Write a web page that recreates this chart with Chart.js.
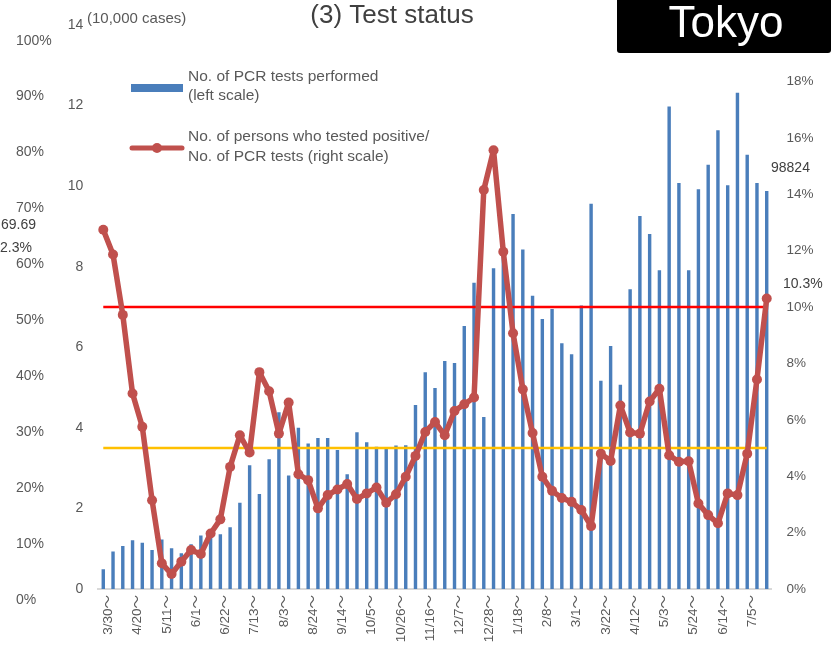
<!DOCTYPE html>
<html>
<head>
<meta charset="utf-8">
<title>(3) Test status - Tokyo</title>
<script src="https://cdn.jsdelivr.net/npm/chart.js@4.4.1/dist/chart.umd.min.js"></script>
<style>
  body { margin: 0; background: #fff; }
  #wrap { width: 833px; height: 656px; }
</style>
</head>
<body>
<div id="wrap"><canvas id="testChart" width="833" height="656"></canvas></div>
<script>
// week starting dates, 2020/3/30 - 2021/7/19
var weeks = [
    '3/30', '4/6', '4/13', '4/20', '4/27', '5/4', '5/11', '5/18', '5/25', '6/1',
    '6/8', '6/15', '6/22', '6/29', '7/6', '7/13', '7/20', '7/27', '8/3', '8/10',
    '8/17', '8/24', '8/31', '9/7', '9/14', '9/21', '9/28', '10/5', '10/12', '10/19',
    '10/26', '11/2', '11/9', '11/16', '11/23', '11/30', '12/7', '12/14', '12/21', '12/28',
    '1/4', '1/11', '1/18', '1/25', '2/1', '2/8', '2/15', '2/22', '3/1', '3/8',
    '3/15', '3/22', '3/29', '4/5', '4/12', '4/19', '4/26', '5/3', '5/10', '5/17',
    '5/24', '5/31', '6/7', '6/14', '6/21', '6/28', '7/5', '7/12', '7/19'
];

// PCR tests performed (10,000 cases) - left scale
var pcrTests = [
    0.49, 0.93, 1.07, 1.21, 1.15, 0.97, 1.23, 1.01, 0.89, 1.11,
    1.33, 1.30, 1.36, 1.53, 2.14, 3.07, 2.36, 3.22, 4.39, 2.82,
    4.00, 3.61, 3.75, 3.75, 3.45, 2.85, 3.89, 3.64, 3.53, 3.49,
    3.56, 3.57, 4.57, 5.38, 4.99, 5.66, 5.61, 6.53, 7.60, 4.27,
    7.96, 8.40, 9.31, 8.43, 7.28, 6.70, 6.95, 6.10, 5.83, 7.04,
    9.56, 5.17, 6.03, 5.07, 7.44, 9.26, 8.81, 7.91, 11.98, 10.08,
    7.91, 9.92, 10.53, 11.39, 10.02, 12.32, 10.78, 10.08, 9.88
];

// positives / PCR tests (%) - right scale
var positiveRate = [
    12.74, 11.86, 9.72, 6.93, 5.75, 3.15, 0.91, 0.53, 0.97, 1.38,
    1.24, 1.97, 2.47, 4.33, 5.45, 4.84, 7.69, 7.01, 5.51, 6.61,
    4.07, 3.86, 2.86, 3.33, 3.53, 3.72, 3.19, 3.39, 3.60, 3.06,
    3.36, 3.98, 4.72, 5.57, 5.92, 5.45, 6.31, 6.55, 6.79, 14.15,
    15.56, 11.96, 9.07, 7.08, 5.53, 3.98, 3.48, 3.23, 3.09, 2.80,
    2.23, 4.80, 4.54, 6.51, 5.55, 5.51, 6.65, 7.10, 4.74, 4.51,
    4.53, 3.03, 2.62, 2.33, 3.39, 3.33, 4.80, 7.43, 10.3
];

// reference levels (%)
var redLevel = 10;
var yellowLevel = 5;

// stray percent scale on the far left of the original
var strayPct = ['100%', '90%', '80%', '70%', '60%', '50%', '40%', '30%', '20%', '10%', '0%'];

var FONT = '"Liberation Sans", Arial, "Noto Sans CJK JP", sans-serif';
var GREY = '#595959';
var BLUE = '#4a7ebb';
var RED = '#c0504d';

Chart.defaults.font.family = FONT;
Chart.defaults.color = GREY;

var decorPlugin = {
    id: 'decor',
    afterDraw: function (chart) {
        var ctx = chart.ctx;
        var area = chart.chartArea;
        ctx.save();

        // title
        ctx.fillStyle = '#404040';
        ctx.font = '26px ' + FONT;
        ctx.textAlign = 'center';
        ctx.textBaseline = 'middle';
        ctx.fillText('(3) Test status', 392, 16);

        // unit
        ctx.fillStyle = GREY;
        ctx.font = '15px ' + FONT;
        ctx.textAlign = 'left';
        ctx.fillText('(10,000 cases)', 87, 19);

        // stray left scale
        ctx.font = '14px ' + FONT;
        var yTop = area.top + 15.7, yBot = area.bottom + 11;
        strayPct.forEach(function (t, i) {
            ctx.fillText(t, 16, yTop + (yBot - yTop) * i / (strayPct.length - 1));
        });
        ctx.fillStyle = '#404040';
        ctx.fillText('69.69', 1, 225);
        ctx.fillText('2.3%', 0, 248);
        ctx.fillText('98824', 771, 168);
        ctx.fillText('10.3%', 783, 284);

        // legend
        ctx.fillStyle = GREY;
        ctx.font = '15.5px ' + FONT;
        ctx.fillText('No. of PCR tests performed', 188, 77);
        ctx.fillText('(left scale)', 188, 96);
        ctx.fillText('No. of persons who tested positive/', 188, 137);
        ctx.fillText('No. of PCR tests (right scale)', 188, 157);
        ctx.fillStyle = BLUE;
        ctx.fillRect(131, 84, 52, 8);
        ctx.strokeStyle = RED;
        ctx.lineWidth = 5;
        ctx.lineCap = 'round';
        ctx.beginPath();
        ctx.moveTo(132, 148);
        ctx.lineTo(182, 148);
        ctx.stroke();
        ctx.fillStyle = RED;
        ctx.beginPath();
        ctx.arc(157, 148, 5, 0, Math.PI * 2);
        ctx.fill();

        // Tokyo box
        ctx.fillStyle = '#000';
        ctx.beginPath();
        ctx.roundRect(617, -6, 214, 59, 3);
        ctx.fill();
        ctx.fillStyle = '#fff';
        ctx.font = '44px ' + FONT;
        ctx.textAlign = 'center';
        ctx.textBaseline = 'alphabetic';
        ctx.fillText('Tokyo', 726, 37);

        ctx.restore();
    }
};

new Chart(document.getElementById('testChart'), {
    data: {
        labels: weeks,
        datasets: [{
            type: 'line',
            label: 'No. of persons who tested positive/No. of PCR tests (right scale)',
            data: positiveRate,
            yAxisID: 'yRight',
            borderColor: RED,
            backgroundColor: RED,
            borderWidth: 5.5,
            borderJoinStyle: 'round',
            borderCapStyle: 'round',
            pointRadius: 5,
            pointBorderWidth: 0,
            pointBackgroundColor: RED,
            tension: 0,
            order: 0
        }, {
            type: 'line',
            label: '10%',
            data: weeks.map(function () { return redLevel; }),
            yAxisID: 'yRight',
            borderColor: '#ff0000',
            borderWidth: 2.5,
            pointRadius: 0,
            order: 1
        }, {
            type: 'line',
            label: '5%',
            data: weeks.map(function () { return yellowLevel; }),
            yAxisID: 'yRight',
            borderColor: '#ffc000',
            borderWidth: 2.5,
            pointRadius: 0,
            order: 1
        }, {
            type: 'bar',
            label: 'No. of PCR tests performed (left scale)',
            data: pcrTests,
            yAxisID: 'y',
            backgroundColor: BLUE,
            barPercentage: 0.35,
            categoryPercentage: 1,
            order: 2
        }]
    },
    options: {
        responsive: false,
        animation: false,
        layout: { padding: { top: 25 } },
        plugins: {
            legend: { display: false },
            tooltip: { enabled: false }
        },
        scales: {
            x: {
                offset: true,
                grid: { display: false, drawTicks: false },
                border: { color: '#d9d9d9', width: 2 },
                ticks: {
                    autoSkip: false,
                    maxRotation: 90,
                    minRotation: 90,
                    padding: 6,
                    labelOffset: 5,
                    color: GREY,
                    font: { size: 13.5 },
                    callback: function (v, i) { return i % 3 === 0 ? weeks[i] + '～' : ''; }
                },
                afterFit: function (s) { s.height = 67; }
            },
            y: {
                position: 'left',
                min: 0,
                max: 14,
                grid: { display: false, drawTicks: false },
                border: { display: false },
                ticks: { stepSize: 2, padding: 15, color: GREY, font: { size: 14 } },
                afterFit: function (s) { s.width = 98.4; }
            },
            yRight: {
                position: 'right',
                min: 0,
                max: 20,
                grid: { display: false, drawTicks: false },
                border: { display: false },
                ticks: {
                    stepSize: 2, padding: 15, color: GREY, font: { size: 13.5 },
                    callback: function (v) { return v + '%'; }
                },
                afterFit: function (s) { s.width = 61.4; }
            }
        }
    },
    plugins: [decorPlugin]
});
</script>
</body>
</html>
